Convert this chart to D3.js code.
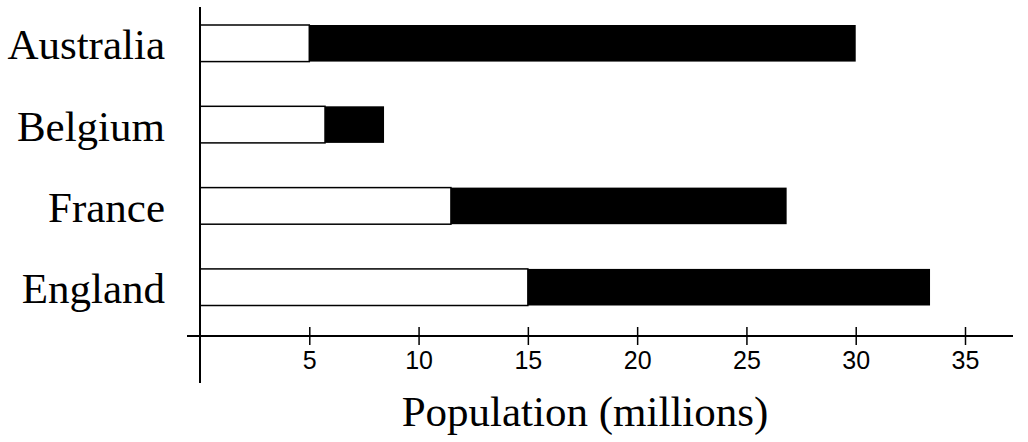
<!DOCTYPE html>
<html>
<head>
<meta charset="utf-8">
<script src="https://cdn.jsdelivr.net/npm/d3@7"></script>
<style>
  html, body { margin: 0; padding: 0; background: #fff; }
  svg { display: block; }
</style>
</head>
<body>
<svg id="chart" width="1028" height="442"></svg>
<script>
const categories = ["Australia", "Belgium", "France", "England"];
const whiteValues = [5.0, 5.72, 11.48, 15.0];
const totalValues = [30.0, 8.42, 26.84, 33.4];
const tickValues = [5, 10, 15, 20, 25, 30, 35];
const axisTitle = "Population (millions)";

const serif = "'Liberation Serif', 'Times New Roman', serif";
const sans = "'Liberation Sans', Arial, sans-serif";

const svg = d3.select("#chart");

const x = d3.scaleLinear().domain([0, 35]).range([200, 965]);
const y = d3.scaleBand().domain(categories).range([25, 305.5]).paddingInner(0.55).paddingOuter(0);

const rows = categories.map((c, i) => ({ c, w: whiteValues[i], t: totalValues[i] }));

// black part
svg.selectAll("rect.black").data(rows).enter().append("rect")
  .attr("class", "black")
  .attr("x", d => x(d.w))
  .attr("y", d => y(d.c))
  .attr("width", d => x(d.t) - x(d.w))
  .attr("height", y.bandwidth())
  .attr("fill", "#000");

// white part
svg.selectAll("rect.white").data(rows).enter().append("rect")
  .attr("class", "white")
  .attr("x", x(0))
  .attr("y", d => y(d.c))
  .attr("width", d => x(d.w) - x(0))
  .attr("height", y.bandwidth())
  .attr("fill", "#fff")
  .attr("stroke", "#000")
  .attr("stroke-width", 1.5);

// category labels
svg.selectAll("text.cat").data(categories).enter().append("text")
  .attr("class", "cat")
  .attr("x", 165)
  .attr("y", d => y(d) + y.bandwidth() / 2 + 16)
  .attr("text-anchor", "end")
  .style("font-family", serif)
  .style("font-size", "43px")
  .attr("fill", "#000")
  .text(d => d);

// y axis line
svg.append("line")
  .attr("x1", x(0)).attr("x2", x(0))
  .attr("y1", 7).attr("y2", 383)
  .attr("stroke", "#000").attr("stroke-width", 2);

// x axis
const axisY = 336;
svg.append("line")
  .attr("x1", 187).attr("x2", 1013)
  .attr("y1", axisY).attr("y2", axisY)
  .attr("stroke", "#000").attr("stroke-width", 2);

const gx = svg.append("g")
  .attr("transform", `translate(0,${axisY})`)
  .call(d3.axisBottom(x).tickValues(tickValues).tickSize(9).tickFormat(d3.format("d")));
gx.attr("font-family", null).attr("font-size", null);
gx.select(".domain").remove();
gx.selectAll(".tick line")
  .attr("y1", -9).attr("y2", 9)
  .attr("stroke", "#000").attr("stroke-width", 1.5);
gx.selectAll(".tick text")
  .attr("y", 33).attr("dy", null)
  .style("font-family", sans)
  .style("font-size", "25px")
  .attr("fill", "#000");

// axis title
svg.append("text")
  .attr("x", 585)
  .attr("y", 426)
  .attr("text-anchor", "middle")
  .style("font-family", serif)
  .style("font-size", "43px")
  .attr("fill", "#000")
  .text(axisTitle);
</script>
</body>
</html>
